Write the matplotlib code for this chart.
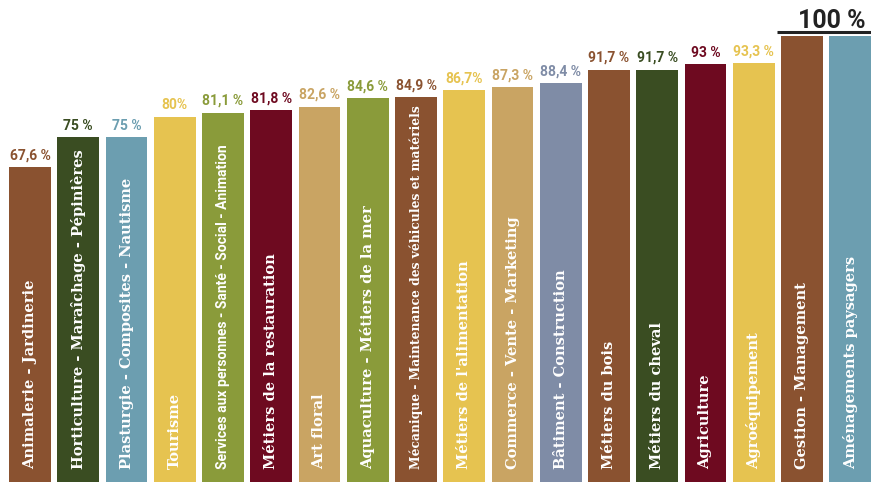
"""
Taux de réussite par filière - bar chart with labels written inside the bars.
"""
import matplotlib
matplotlib.use('Agg')
import matplotlib.pyplot as plt

# %% --- data ---

filieres = [
    "Animalerie - Jardinerie",
    "Horticulture - Maraîchage - Pépinières",
    "Plasturgie - Composites - Nautisme",
    "Tourisme",
    "Services aux personnes - Santé - Social - Animation",
    "Métiers de la restauration",
    "Art floral",
    "Aquaculture - Métiers de la mer",
    "Mécanique - Maintenance des véhicules et matériels",
    "Métiers de l'alimentation",
    "Commerce - Vente - Marketing",
    "Bâtiment - Construction",
    "Métiers du bois",
    "Métiers du cheval",
    "Agriculture",
    "Agroéquipement",
    "Gestion - Management",
    "Aménagements paysagers",
]
taux = [67.6, 75, 75, 80, 81.1, 81.8, 82.6, 84.6, 84.9,
        86.7, 87.3, 88.4, 91.7, 91.7, 93, 93.3, 100, 100]
taux_labels = ["67,6 %", "75 %", "75 %", "80%", "81,1 %", "81,8 %", "82,6 %",
               "84,6 %", "84,9 %", "86,7%", "87,3 %", "88,4 %", "91,7 %",
               "91,7 %", "93 %", "93,3 %", "", ""]

BROWN  = '#8A5230'
DGREEN = '#3A4D22'
TEAL   = '#6C9EB0'
YELLOW = '#E6C350'
OLIVE  = '#8A9B3A'
DRED   = '#6E0A20'
TAN    = '#C9A463'
BGREY  = '#7F8CA6'
colors = [BROWN, DGREEN, TEAL, YELLOW, OLIVE, DRED, TAN, OLIVE, BROWN,
          YELLOW, TAN, BGREY, BROWN, DGREEN, DRED, YELLOW, BROWN, TEAL]

# smaller font for the two very long labels
small = {4: ('Roboto', 10.0), 8: ('DejaVu Serif', 8.8)}

# %% --- plot ---

fig = plt.figure(figsize=(8.71, 4.82), dpi=100)
ax = fig.add_axes([0, 0, 1, 1])
base = -15
x = list(range(len(taux)))
ax.bar(x, [v - base for v in taux], bottom=base, width=0.87, color=colors)

for i, (name, v, lab, c) in enumerate(zip(filieres, taux, taux_labels, colors)):
    fam, fs = small.get(i, ('DejaVu Serif', 10.5))
    ax.text(i, -6.9, name, rotation=90, ha='center', va='bottom',
            color='white', fontsize=fs, fontweight='bold', family=fam)
    if lab:
        ax.annotate(lab, (i, v), xytext=(0, 5.5), textcoords='offset points',
                    ha='center', va='baseline', color=c, fontsize=10,
                    fontweight='bold', family='Roboto')

# 100 % marker over the last two bars
ax.plot([15.49, 17.6], [100.9, 100.9], color='#222222', lw=2.2,
        solid_capstyle='butt')
ax.text(16.62, 102.0, "100 %", ha='center', va='baseline', color='#222222',
        fontsize=18, fontweight='bold', family='Roboto')

ax.set_xlim(-0.622, 17.43)
ax.set_ylim(-10.1, 108.9)
ax.axis('off')

fig.savefig('out.png', dpi=100)
